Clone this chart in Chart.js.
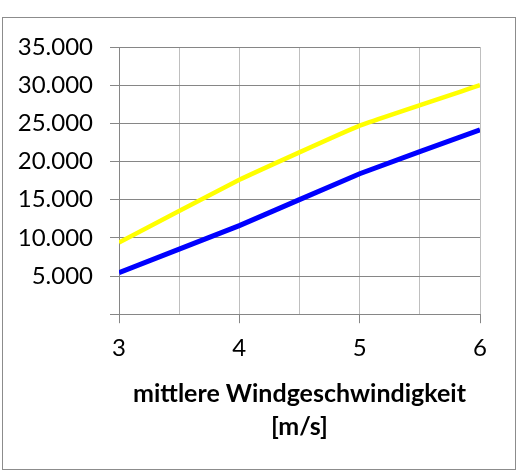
<!DOCTYPE html>
<html>
<head>
<meta charset="utf-8">
<script src="https://cdn.jsdelivr.net/npm/chart.js@4/dist/chart.umd.min.js"></script>
<style>
    html, body { margin: 0; padding: 0; background: #fff; }
    #wrap { position: relative; width: 517px; height: 473px; }
</style>
</head>
<body>
<div id="wrap"><canvas id="chart" width="517" height="473"></canvas></div>
<script>
const windSpeeds = [3, 4, 5, 6];
const yellowSeries = [9400, 17600, 24700, 30000];
const blueSeries = [5450, 11600, 18400, 24150];
const yTicks = [0, 5000, 10000, 15000, 20000, 25000, 30000, 35000];
const xTitle = ['mittlere Windgeschwindigkeit', '[m/s]'];

const FONT = 'Lato, "Open Sans", sans-serif';

function formatThousands(value) {
    if (!value) { return ''; }
    return value.toLocaleString('de-DE');
}

function toPoints(values) {
    return windSpeeds.map((x, i) => ({ x, y: values[i] }));
}

const frame = {
    id: 'frame',
    afterDraw(chart) {
        const { ctx } = chart;
        ctx.save();
        ctx.strokeStyle = '#8c8c8c';
        ctx.lineWidth = 1;
        ctx.strokeRect(2.5, 17.5, 513, 452);
        ctx.restore();
    },
};

new Chart(document.getElementById('chart'), {
    type: 'line',
    plugins: [frame],
    data: {
        datasets: [
            {
                label: 'gelb',
                data: toPoints(yellowSeries),
                borderColor: '#ffff00',
                borderWidth: 4.5,
                pointRadius: 0,
                tension: 0.1,
            },
            {
                label: 'blau',
                data: toPoints(blueSeries),
                borderColor: '#0000ff',
                borderWidth: 5,
                pointRadius: 0,
                tension: 0.1,
            },
        ],
    },
    options: {
        responsive: false,
        animation: false,
        layout: {
            padding: { top: 47, right: 37, bottom: 30, left: 10 },
        },
        plugins: {
            legend: { display: false },
            tooltip: { enabled: false },
        },
        scales: {
            x: {
                type: 'linear',
                min: windSpeeds[0],
                max: windSpeeds[windSpeeds.length - 1],
                ticks: {
                    stepSize: 0.5,
                    autoSkip: false,
                    maxRotation: 0,
                    padding: 11,
                    color: '#000',
                    font: { family: FONT, size: 24 },
                    callback: (v) => (Number.isInteger(v) ? String(v) : ''),
                },
                grid: {
                    color: '#bfbfbf',
                    lineWidth: 1,
                    tickLength: 9,
                    tickColor: (ctx) => (Number.isInteger(ctx.tick.value) ? '#868686' : 'rgba(0,0,0,0)'),
                },
                border: { color: '#868686', width: 1 },
                title: {
                    display: true,
                    text: xTitle,
                    color: '#000',
                    font: { family: FONT, size: 25, weight: 'bold', lineHeight: 1.3 },
                    padding: { top: 4, bottom: 0 },
                },
            },
            y: {
                min: yTicks[0],
                max: yTicks[yTicks.length - 1],
                afterBuildTicks: (axis) => {
                    axis.ticks = yTicks.map((value) => ({ value }));
                },
                afterFit: (axis) => {
                    axis.width = 109;
                },
                ticks: {
                    padding: 17,
                    color: '#000',
                    font: { family: FONT, size: 24 },
                    callback: (v) => formatThousands(v),
                },
                grid: {
                    color: '#868686',
                    lineWidth: 1,
                    tickLength: 9,
                    tickColor: '#868686',
                },
                border: { color: '#868686', width: 1 },
            },
        },
    },
});
</script>
</body>
</html>
